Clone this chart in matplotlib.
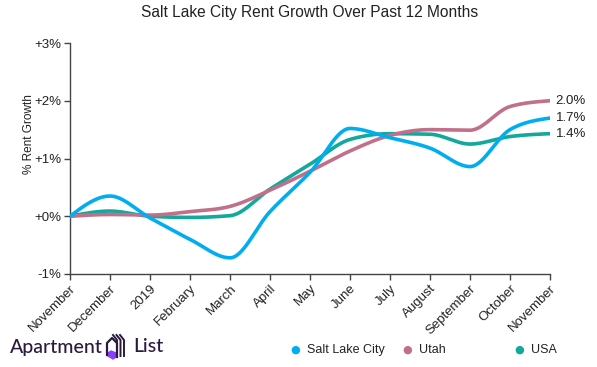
import numpy as np
import matplotlib
matplotlib.use("Agg")
import matplotlib.pyplot as plt
from matplotlib.patches import Polygon

# ---- data ----
months = ["November", "December", "2019", "February", "March", "April", "May",
          "June", "July", "August", "September", "October", "November"]
slc = [0.0, 0.35, -0.03, -0.40, -0.72, 0.08, 0.76, 1.52, 1.36, 1.18, 0.86, 1.50, 1.70]
utah = [0.0, 0.03, 0.02, 0.08, 0.17, 0.45, 0.78, 1.13, 1.40, 1.50, 1.49, 1.90, 2.00]
usa = [0.0, 0.09, 0.0, -0.02, 0.01, 0.47, 0.90, 1.33, 1.43, 1.42, 1.25, 1.38, 1.43]
series_names = ["Salt Lake City", "Utah", "USA"]
colors = ["#00aeef", "#c0708a", "#12a89b"]
end_labels = ["1.7%", "2.0%", "1.4%"]
yticks = [-1, 0, 1, 2, 3]
ytick_labels = ["-1%", "+0%", "+1%", "+2%", "+3%"]


def monotone(x, y, n=30):
    x = np.asarray(x, float); y = np.asarray(y, float)
    h = np.diff(x); d = np.diff(y) / h
    m = np.zeros_like(y)
    for i in range(1, len(y) - 1):
        if d[i - 1] * d[i] <= 0:
            m[i] = 0
        else:
            m[i] = (np.sign(d[i - 1]) + np.sign(d[i])) * min(abs(d[i - 1]), abs(d[i]),
                   0.5 * abs((h[i - 1] * d[i] + h[i] * d[i - 1]) / (h[i - 1] + h[i])))
    m[0] = (3 * d[0] - m[1]) / 2
    m[-1] = (3 * d[-1] - m[-2]) / 2
    xs, ys = [], []
    for i in range(len(h)):
        t = np.linspace(0, 1, n, endpoint=(i == len(h) - 1))
        h00 = 2 * t**3 - 3 * t**2 + 1
        h10 = t**3 - 2 * t**2 + t
        h01 = -2 * t**3 + 3 * t**2
        h11 = t**3 - t**2
        xs.append(x[i] + t * h[i])
        ys.append(h00 * y[i] + h10 * h[i] * m[i] + h01 * y[i + 1] + h11 * h[i] * m[i + 1])
    return np.concatenate(xs), np.concatenate(ys)


plt.rcParams["font.family"] = ["Liberation Sans", "DejaVu Sans"]
fig = plt.figure(figsize=(5.97, 3.67), dpi=100)
ax = fig.add_axes([70 / 597, 1 - 274 / 367, 480 / 597, 231 / 367])

x = np.arange(len(months))
for vals, c in zip([usa, utah, slc], [colors[2], colors[1], colors[0]]):
    xs, ys = monotone(x, vals)
    ax.plot(xs, ys, color=c, lw=2.6, solid_capstyle="round", zorder=3)

for vals, lab in zip([slc, utah, usa], end_labels):
    ax.annotate(lab, (x[-1], vals[-1]), xytext=(4, 0), textcoords="offset points",
                va="center", ha="left", fontsize=9.5, color="#222222", annotation_clip=False)

ax.set_xlim(0, len(months) - 1)
ax.set_ylim(-1, 3)
ax.set_yticks(yticks)
ax.set_yticklabels(ytick_labels)
ax.set_xticks(x)
ax.set_xticklabels(months, rotation=45, ha="right", rotation_mode="anchor")
for s in ["top", "right"]:
    ax.spines[s].set_visible(False)
for s in ["left", "bottom"]:
    ax.spines[s].set_color("#444444")
    ax.spines[s].set_linewidth(1.0)
ax.tick_params(axis="both", colors="#444444", length=4, width=1, labelsize=9.5,
               labelcolor="#222222", pad=2)
ax.set_ylabel("% Rent Growth", fontsize=8.5, color="#222222")
ax.yaxis.set_label_coords(-0.073, 0.606)

fig.text(310 / 597, 1 - 13 / 367, "Salt Lake City Rent Growth Over Past 12 Months",
         ha="center", va="center", fontsize=11.2, color="#222222")

# legend
leg_x = [295, 407, 519]
for lx, name, c in zip(leg_x, series_names, colors):
    fig.text(lx / 597, 1 - 350 / 367, "●", color=c, fontsize=8, ha="center", va="center",
             family="DejaVu Sans")
    fig.text((lx + 12) / 597, 1 - 350 / 367, name, color="#222222", fontsize=9,
             ha="left", va="center")

# logo
logo_col = "#2b1a3d"
fig.text(10 / 597, 1 - 347 / 367, "Apartment", color=logo_col, fontsize=14,
         family="Lato", weight="medium", ha="left", va="center")
fig.text(133 / 597, 1 - 347 / 367, "List", color=logo_col, fontsize=14,
         family="Lato", weight="medium", ha="left", va="center")
lax = fig.add_axes([104 / 597, 1 - 361 / 367, 24 / 597, 28 / 367])
lax.set_xlim(0, 24); lax.set_ylim(0, 28); lax.axis("off")
lax.plot([3, 3, 8, 13, 13], [6, 18, 23, 18, 4], color=logo_col, lw=1.6,
         solid_joinstyle="round")
lax.add_patch(Polygon([[4, 5], [9, 2], [12, 4], [12, 8], [7, 10], [4, 8]], closed=True,
                      color="#8a3ffc"))
for dx in [0, 3.5, 7]:
    lax.plot([9 + dx, 13 + dx, 13 + dx], [26, 21, 5], color=logo_col, lw=1.4,
             solid_joinstyle="round")

fig.savefig("out.png", dpi=100)
